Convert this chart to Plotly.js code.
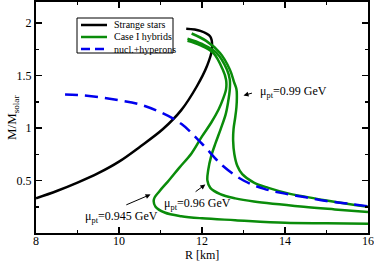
<!DOCTYPE html>
<html>
<head>
<meta charset="utf-8">
<script src="https://cdn.plot.ly/plotly-3.0.1.min.js"></script>
<style>html,body{margin:0;padding:0;background:#fff}#chart{width:374px;height:261px}</style>
</head>
<body>
<div id="chart"></div>
<script>
// Strange stars
const strangeR = [8.0, 8.5, 9.0, 9.5, 10.0, 10.5, 11.06, 11.5, 11.88, 12.12, 12.24, 12.2, 11.96, 11.62];
const strangeM = [0.33, 0.40, 0.48, 0.57, 0.68, 0.82, 0.99, 1.17, 1.40, 1.59, 1.75, 1.87, 1.925, 1.945];

// Case I hybrids, mu_pt = 0.945 GeV
const hybA_R = [11.65, 11.95, 12.27, 12.5, 12.58, 12.58, 12.5, 12.4, 12.22, 12.0, 11.75, 11.45, 11.2, 10.98, 10.84, 10.88, 11.1, 11.5, 12.0, 12.8, 14.0, 15.0, 16.0];
const hybA_M = [1.83, 1.79, 1.716, 1.557, 1.46, 1.37, 1.27, 1.176, 1.05, 0.92, 0.76, 0.62, 0.50, 0.40, 0.32, 0.25, 0.195, 0.16, 0.14, 0.122, 0.097, 0.092, 0.088];

// Case I hybrids, mu_pt = 0.96 GeV
const hybB_R = [11.65, 12.0, 12.35, 12.6, 12.67, 12.67, 12.63, 12.57, 12.45, 12.33, 12.22, 12.15, 12.13, 12.2, 12.44, 12.8, 13.25, 14.45, 15.2, 16.0];
const hybB_M = [1.85, 1.80, 1.716, 1.557, 1.46, 1.37, 1.25, 1.13, 0.99, 0.86, 0.73, 0.60, 0.50, 0.43, 0.37, 0.33, 0.30, 0.25, 0.225, 0.20];

// Case I hybrids, mu_pt = 0.99 GeV
const hybC_R = [11.75, 12.1, 12.43, 12.67, 12.77, 12.83, 12.84, 12.83, 12.8, 12.76, 12.75, 12.78, 12.85, 12.97, 13.25, 13.6, 14.05, 15.0, 16.0];
const hybC_M = [1.90, 1.83, 1.716, 1.557, 1.44, 1.37, 1.30, 1.20, 1.10, 0.99, 0.88, 0.75, 0.64, 0.56, 0.48, 0.43, 0.38, 0.31, 0.25];

// nucl.+hyperons
const hypR = [8.7, 9.0, 9.5, 10.0, 10.5, 11.0, 11.5, 12.0, 12.5, 13.0, 13.5, 14.0, 14.5, 15.0, 15.5, 16.0];
const hypM = [1.32, 1.315, 1.295, 1.265, 1.225, 1.15, 1.04, 0.85, 0.64, 0.50, 0.42, 0.375, 0.34, 0.305, 0.28, 0.255];

const legendNames = ["Strange stars", "Case I hybrids", "nucl.+hyperons"];
const labelTexts = ["μ<sub>pt</sub>=0.99 GeV", "μ<sub>pt</sub>=0.96 GeV", "μ<sub>pt</sub>=0.945 GeV"];
const xTitle = "R [km]";
const yTitle = "M/M<sub>solar</sub>";
const xTicks = [8, 10, 12, 14, 16];
const yTicks = [0.5, 1, 1.5, 2];

const GREEN = '#0a8c0a';
const FONT = '"Liberation Serif", "Times New Roman", Times, serif';

const traces = [
  {x: strangeR, y: strangeM, mode: 'lines', line: {color: 'black', width: 2.5, shape: 'spline'}, name: legendNames[0]},
  {x: hybA_R, y: hybA_M, mode: 'lines', line: {color: GREEN, width: 2.5, shape: 'spline'}, name: legendNames[1]},
  {x: hybB_R, y: hybB_M, mode: 'lines', line: {color: GREEN, width: 2.5, shape: 'spline'}, name: legendNames[1]},
  {x: hybC_R, y: hybC_M, mode: 'lines', line: {color: GREEN, width: 2.5, shape: 'spline'}, name: legendNames[1]},
  {x: hypR, y: hypM, mode: 'lines', line: {color: '#0000ee', width: 2.5, dash: '13px,7px', shape: 'spline'}, name: legendNames[2]}
];

// manual legend (paper coords)
const px = v => (v - 36) / 332;
const py = v => (233 - v) / 231;
const legColors = ['black', GREEN, '#0000ee'];
const legDash = ['solid', 'solid', '9px,5px'];
const rowY = [25, 37, 49];
const shapes = [
  {type: 'rect', xref: 'paper', yref: 'paper', x0: px(77), x1: px(173), y0: py(53), y1: py(18), line: {color: 'black', width: 1}, fillcolor: 'white', layer: 'above'}
];
const annotations = [];
for (let i = 0; i < 3; i++) {
  shapes.push({type: 'line', xref: 'paper', yref: 'paper', x0: px(81), x1: px(107), y0: py(rowY[i]), y1: py(rowY[i]), line: {color: legColors[i], width: 2.5, dash: legDash[i]}, layer: 'above'});
  annotations.push({xref: 'paper', yref: 'paper', x: px(112), y: py(rowY[i]), text: legendNames[i], showarrow: false, xanchor: 'left', yanchor: 'middle', font: {family: FONT, size: 10, color: 'black'}});
}
// curve labels
annotations.push({x: 13.35, y: 1.345, text: labelTexts[0], showarrow: false, xanchor: 'left', yanchor: 'middle', font: {family: FONT, size: 12, color: 'black'}});
annotations.push({x: 11.04, y: 0.28, text: labelTexts[1], showarrow: false, xanchor: 'left', yanchor: 'middle', font: {family: FONT, size: 12, color: 'black'}});
annotations.push({x: 9.14, y: 0.155, text: labelTexts[2], showarrow: false, xanchor: 'left', yanchor: 'middle', font: {family: FONT, size: 12, color: 'black'}});
// axis titles
annotations.push({xref: 'paper', yref: 'paper', x: 0.5, y: py(254.5), text: xTitle, showarrow: false, xanchor: 'center', yanchor: 'middle', font: {family: FONT, size: 12, color: 'black'}});
annotations.push({xref: 'paper', yref: 'paper', x: px(12), y: py(118), text: yTitle, textangle: -90, showarrow: false, xanchor: 'center', yanchor: 'middle', font: {family: FONT, size: 13, color: 'black'}});
// arrows
const arrows = [
  {tip: [13.0, 1.31], tail: [13.24, 1.336]},
  {tip: [12.08, 0.462], tail: [11.81, 0.383]},
  {tip: [10.76, 0.367], tail: [10.14, 0.262]}
];
arrows.forEach(a => annotations.push({x: a.tip[0], y: a.tip[1], ax: a.tail[0], ay: a.tail[1], axref: 'x', ayref: 'y', text: '', showarrow: true, arrowhead: 2, arrowsize: 1, arrowwidth: 1, arrowcolor: 'black'}));

const layout = {
  width: 374, height: 261,
  margin: {l: 36, r: 6, t: 2, b: 28},
  paper_bgcolor: 'white', plot_bgcolor: 'white',
  showlegend: false,
  font: {family: FONT, size: 12, color: 'black'},
  xaxis: {
    range: [8, 16], tickmode: 'array', tickvals: xTicks, ticktext: xTicks.map(String),
    ticks: 'inside', ticklen: 6, tickwidth: 1.5, tickcolor: 'black', ticklabelstandoff: -4,
    showline: true, linecolor: 'black', linewidth: 2, mirror: 'ticks',
    showgrid: false, zeroline: false,
    minor: {tickmode: 'linear', tick0: 8, dtick: 1, ticks: 'inside', ticklen: 3, tickwidth: 1.5, tickcolor: 'black', showgrid: false},
    tickfont: {family: FONT, size: 12, color: 'black'}
  },
  yaxis: {
    range: [0, 2.2], tickmode: 'array', tickvals: yTicks, ticktext: yTicks.map(String),
    ticks: 'inside', ticklen: 6, tickwidth: 1.5, tickcolor: 'black',
    showline: true, linecolor: 'black', linewidth: 2, mirror: 'ticks',
    showgrid: false, zeroline: false,
    minor: {tickmode: 'linear', tick0: 0, dtick: 0.25, ticks: 'inside', ticklen: 3, tickwidth: 1.5, tickcolor: 'black', showgrid: false},
    tickfont: {family: FONT, size: 12, color: 'black'}
  },
  shapes: shapes,
  annotations: annotations
};

Plotly.newPlot('chart', traces, layout, {staticPlot: true, displayModeBar: false});
</script>
</body>
</html>
